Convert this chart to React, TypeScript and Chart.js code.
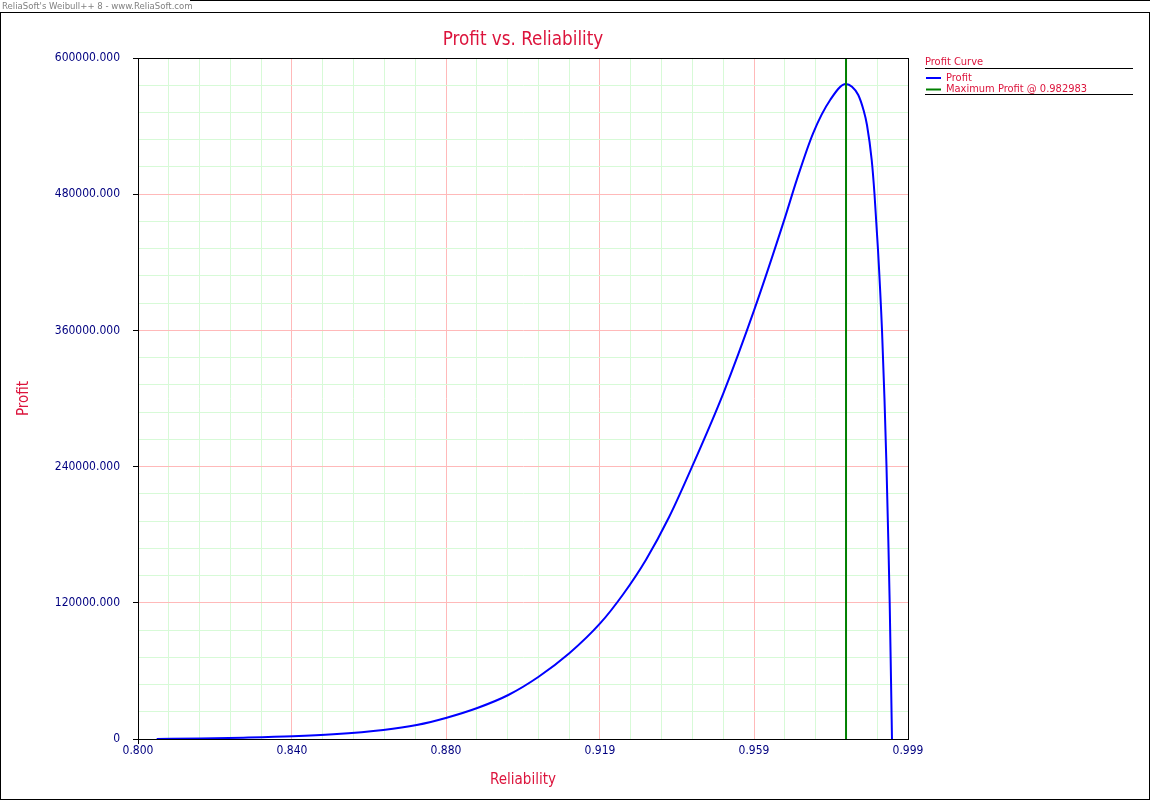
import React, { useEffect, useRef } from 'react';
import { Chart, registerables } from 'chart.js';

Chart.register(...registerables);

// ---- Data ----
const reliability = [
  0.80483, 0.81602, 0.82721, 0.83998, 0.85047, 0.8634, 0.87203, 0.87978, 0.88769, 0.8957,
  0.90345, 0.91147, 0.91948, 0.92534, 0.93129, 0.93723, 0.94325, 0.95127, 0.95928, 0.96729,
  0.97023, 0.97452, 0.97884, 0.98298, 0.98453, 0.98615, 0.9875, 0.9884, 0.98962, 0.99034,
  0.99125, 0.99228, 0.99293, 0.99344, 0.99391, 0.99427, 0.99461, 0.99486,
];
const profit = [
  0, 400, 1150, 2380, 4140, 7930, 12330, 18770, 27310, 38770,
  54630, 75510, 102030, 127310, 157970, 195330, 240350, 304580, 378330, 460270,
  492420, 534100, 562820, 577100, 574630, 567400, 554190, 540970, 510130, 480180,
  430840, 360350, 298680, 240530, 175330, 119830, 51980, 0,
];
const maxProfitReliability = 0.982983;

const xMin = 0.8;
const xMax = 0.999;
const yMin = 0;
const yMax = 600000;
const majorDivisions = 5;
const minorPerMajor = 5;

const chartTitle = 'Profit vs. Reliability';
const xAxisTitle = 'Reliability';
const yAxisTitle = 'Profit';
const legendTitle = 'Profit Curve';
const legendLabels = ['Profit', 'Maximum Profit @ 0.982983'];
const headerText = "ReliaSoft's Weibull++ 8 - www.ReliaSoft.com";

// ---- Styles ----
const FONT = "Tahoma, 'DejaVu Sans Condensed', 'DejaVu Sans', sans-serif";
const CRIMSON = '#DC143C';
const NAVY = '#000080';
const MAJOR_GRID = 'rgb(255,185,185)';
const MINOR_GRID = 'rgb(215,250,215)';
const PROFIT_COLOR = '#0000FF';
const MAX_COLOR = '#008000';

const W = 1150;
const H = 800;

function buildTicks(min: number, max: number) {
  const n = majorDivisions * minorPerMajor;
  const ticks = [] as { value: number }[];
  for (let i = 0; i <= n; i++) ticks.push({ value: min + (i * (max - min)) / n });
  return ticks;
}

const decorPlugin = {
  id: 'decor',
  afterDraw(chart: any) {
    const ctx = chart.ctx;
    const { left, right, top, bottom } = chart.chartArea;
    ctx.save();
    ctx.strokeStyle = '#000';
    ctx.lineWidth = 1;
    // plot frame
    ctx.strokeRect(Math.round(left) + 0.5, Math.round(top) + 0.5, Math.round(right - left), Math.round(bottom - top));
    // outer frame
    ctx.strokeRect(0.5, 12.5, W - 1, H - 13);
    ctx.beginPath();
    ctx.moveTo(190, 0.5);
    ctx.lineTo(W, 0.5);
    ctx.stroke();

    // header
    ctx.fillStyle = '#808080';
    ctx.font = `9.5px ${FONT}`;
    ctx.textBaseline = 'middle';
    ctx.textAlign = 'left';
    ctx.fillText(headerText, 2, 6.5);

    // legend
    const lx = 925;
    const lineEnd = 1133;
    ctx.font = `11px ${FONT}`;
    ctx.fillStyle = CRIMSON;
    ctx.fillText(legendTitle, lx, 62);
    ctx.beginPath();
    ctx.moveTo(lx, 68.5);
    ctx.lineTo(lineEnd, 68.5);
    ctx.stroke();

    const rows = [
      { label: legendLabels[0], color: PROFIT_COLOR, y: 78 },
      { label: legendLabels[1], color: MAX_COLOR, y: 89.5 },
    ];
    rows.forEach((r) => {
      ctx.strokeStyle = r.color;
      ctx.lineWidth = 2;
      ctx.beginPath();
      ctx.moveTo(926, r.y);
      ctx.lineTo(941, r.y);
      ctx.stroke();
      ctx.fillStyle = CRIMSON;
      ctx.fillText(r.label, 946, r.y);
    });
    ctx.strokeStyle = '#000';
    ctx.lineWidth = 1;
    ctx.beginPath();
    ctx.moveTo(lx, 94.5);
    ctx.lineTo(lineEnd, 94.5);
    ctx.stroke();

    ctx.restore();
  },
};

export default function App() {
  const canvasRef = useRef<HTMLCanvasElement | null>(null);

  useEffect(() => {
    document.body.style.margin = '0';
    const canvas = canvasRef.current;
    if (!canvas) return;

    const profitPoints = reliability.map((r, i) => ({ x: r, y: profit[i] }));
    const maxLine = [
      { x: maxProfitReliability, y: yMin },
      { x: maxProfitReliability, y: yMax },
    ];

    const chart = new Chart(canvas, {
      type: 'line',
      data: {
        datasets: [
          {
            label: legendLabels[1],
            data: maxLine,
            borderColor: MAX_COLOR,
            borderWidth: 2,
            pointRadius: 0,
            order: 0,
          },
          {
            label: legendLabels[0],
            data: profitPoints,
            borderColor: PROFIT_COLOR,
            borderWidth: 2,
            pointRadius: 0,
            cubicInterpolationMode: 'monotone',
            order: 1,
          },
        ],
      },
      options: {
        responsive: false,
        animation: false,
        layout: { padding: { left: 0, top: 0, right: 242, bottom: 0 } },
        plugins: {
          legend: { display: false },
          tooltip: { enabled: false },
          title: {
            display: true,
            text: chartTitle,
            fullSize: false,
            color: CRIMSON,
            font: { family: FONT, size: 18.7, weight: 'normal', lineHeight: 1.2 },
            padding: { top: 29, bottom: 6.56 },
          },
        },
        scales: {
          x: {
            type: 'linear',
            min: xMin,
            max: xMax,
            afterBuildTicks: (scale: any) => {
              scale.ticks = buildTicks(xMin, xMax);
            },
            afterFit: (scale: any) => {
              scale.height = 61;
            },
            ticks: {
              autoSkip: false,
              maxRotation: 0,
              padding: 0,
              color: NAVY,
              font: { family: FONT, size: 12 },
              callback: (v: any, i: number) => (i % minorPerMajor === 0 ? Number(v).toFixed(3) : ''),
            },
            grid: {
              color: (c: any) => (c.index % minorPerMajor === 0 ? MAJOR_GRID : MINOR_GRID),
              tickColor: (c: any) => (c.index === 0 ? '#000' : 'rgba(0,0,0,0)'),
              tickLength: 5,
              lineWidth: 1,
            },
            border: { display: true, color: '#000', width: 1 },
            title: {
              display: true,
              text: xAxisTitle,
              color: CRIMSON,
              font: { family: FONT, size: 15, lineHeight: 1.2 },
              padding: { top: 0, bottom: 11 },
            },
          },
          y: {
            type: 'linear',
            min: yMin,
            max: yMax,
            afterBuildTicks: (scale: any) => {
              scale.ticks = buildTicks(yMin, yMax);
            },
            afterFit: (scale: any) => {
              scale.width = 138;
            },
            ticks: {
              autoSkip: false,
              padding: 13,
              color: NAVY,
              font: { family: FONT, size: 12 },
              callback: (v: any, i: number) => {
                if (i % minorPerMajor !== 0) return '';
                const n = Number(v);
                return n === 0 ? '0' : n.toFixed(3);
              },
            },
            grid: {
              color: (c: any) => (c.index % minorPerMajor === 0 ? MAJOR_GRID : MINOR_GRID),
              tickColor: (c: any) => (c.index % minorPerMajor === 0 ? '#000' : 'rgba(0,0,0,0)'),
              tickLength: 5,
              lineWidth: 1,
            },
            border: { display: true, color: '#000', width: 1 },
            title: {
              display: true,
              text: yAxisTitle,
              color: CRIMSON,
              font: { family: FONT, size: 15, lineHeight: 1.2 },
              padding: { top: 15, bottom: 0 },
            },
          },
        },
      },
      plugins: [decorPlugin],
    } as any);

    return () => chart.destroy();
  }, []);

  return (
    <div style={{ width: W, height: H, position: 'relative', background: '#fff' }}>
      <canvas ref={canvasRef} width={W} height={H} style={{ display: 'block' }} />
    </div>
  );
}
